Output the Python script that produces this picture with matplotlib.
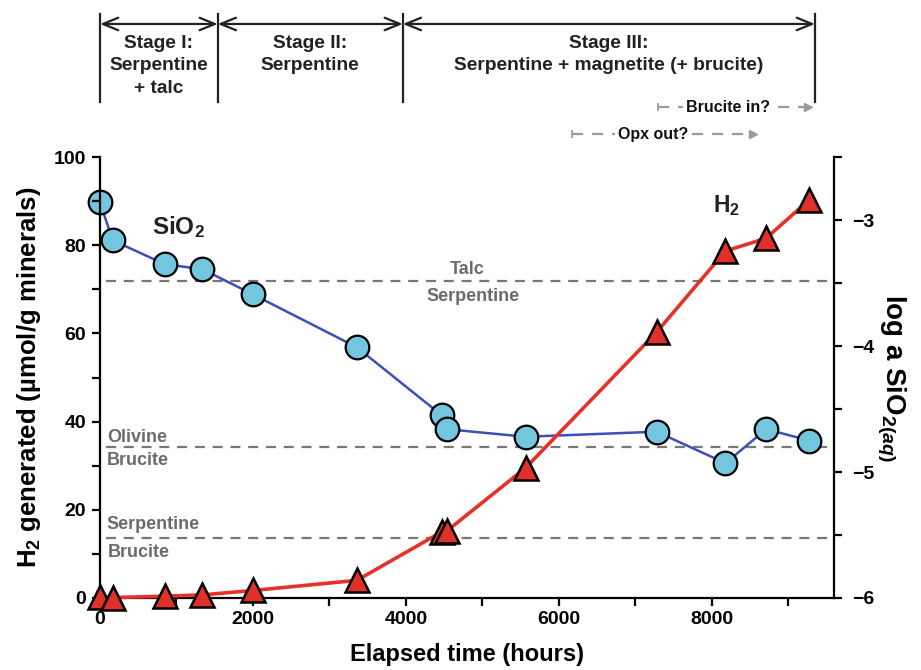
import matplotlib
matplotlib.use("Agg")
import matplotlib.pyplot as plt
from matplotlib.ticker import MultipleLocator

plt.rcParams['font.family'] = ['Liberation Sans', 'DejaVu Sans']
plt.rcParams['font.weight'] = 'bold'
plt.rcParams['mathtext.fontset'] = 'custom'
plt.rcParams['mathtext.rm'] = 'Liberation Sans:bold'
plt.rcParams['mathtext.bf'] = 'Liberation Sans:bold'
plt.rcParams['mathtext.it'] = 'Liberation Sans:italic'

# --- data ---
hours = [0, 165, 845, 1340, 2000, 3360, 4470, 4536, 5565, 7280, 8180, 8712, 9275]
h2_umol = [0.2, 0.1, 0.4, 0.7, 1.7, 4.0, 15.0, 15.2, 29.5, 60.3, 78.7, 81.6, 90.3]
log_a_sio2 = [-2.86, -3.16, -3.35, -3.39, -3.59, -4.01, -4.55, -4.66,
              -4.72, -4.68, -4.93, -4.66, -4.75]

# mineral equilibrium levels (log aSiO2) and their labels (above, below)
boundary_levels = [-3.48, -4.80, -5.52]
boundary_labels = [("Talc", "Serpentine"), ("Olivine", "Brucite"), ("Serpentine", "Brucite")]

# alteration stages
stage_edges = [0, 1540, 3960, 9350]
stage_names = ["Stage I:\nSerpentine\n+ talc",
               "Stage II:\nSerpentine",
               "Stage III:\nSerpentine + magnetite (+ brucite)"]

# uncertain phase changes: (label, start, end)
phase_events = [("Brucite in?", 7294, 9255), ("Opx out?", 6170, 8536)]

BLUE = '#3c4fb8'
RED = '#e8302a'
CYAN = '#72c6de'
TRI = '#e0302a'
GREY = '#6b6b6b'

fig = plt.figure(figsize=(9.21, 6.70), dpi=100)
ax = fig.add_axes([0.1086, 0.1075, 0.797, 0.658])
ax2 = ax.twinx()

# SiO2 on the right-hand axis
ax2.plot(hours, log_a_sio2, '-', color=BLUE, lw=1.8, zorder=2)
ax2.plot(hours, log_a_sio2, 'o', ms=17, mfc=CYAN, mec='black', mew=1.6,
         clip_on=False, zorder=3)

for lev in boundary_levels:
    ax2.axhline(lev, xmin=0.008, color='#777777', lw=1.6, ls=(0, (4.5, 3.5)), zorder=1)

ax2.set_ylim(-6, -2.5)
ax2.yaxis.set_major_locator(MultipleLocator(1))
ax2.yaxis.set_minor_locator(MultipleLocator(0.5))

# H2 on the left-hand axis, drawn above the SiO2 axis
ax.set_zorder(ax2.get_zorder() + 1)
ax.patch.set_visible(False)
ax.plot(hours, h2_umol, '-', color=RED, lw=2.6, zorder=4, clip_on=False)
ax.plot(hours, h2_umol, '^', ms=17, mfc=TRI, mec='black', mew=1.8,
        clip_on=False, zorder=5)

ax.set_xlim(0, 9600)
ax.set_ylim(0, 100)
ax.xaxis.set_major_locator(MultipleLocator(2000))
ax.xaxis.set_minor_locator(MultipleLocator(1000))
ax.yaxis.set_major_locator(MultipleLocator(20))
ax.yaxis.set_minor_locator(MultipleLocator(10))

for a in (ax, ax2):
    a.spines['top'].set_visible(False)
    for s in a.spines.values():
        s.set_linewidth(1.6)
    a.tick_params(which='both', direction='out', width=1.6, length=6, labelsize=14)
ax.spines['right'].set_visible(False)
ax2.spines['left'].set_visible(False)
ax2.spines['bottom'].set_visible(False)
ax.tick_params(axis='y', pad=4)
ax2.tick_params(axis='y', pad=7)

ax.set_xlabel("Elapsed time (hours)", fontsize=17, fontweight='bold', labelpad=11)
ax.set_ylabel(r"H$_\mathbf{2}$ generated (µmol/g minerals)", fontsize=18.5,
              fontweight='bold', labelpad=8)
ax2.set_ylabel(r"log a SiO$_{\mathbf{2}\mathit{(aq)}}$", fontsize=20,
               fontweight='bold', rotation=270, labelpad=24)

# series labels
ax.text(1020, 84.1, r"SiO$_\mathbf{2}$", fontsize=17.5, ha='center', va='center', color='#222222')
ax.text(8187, 89.1, r"H$_\mathbf{2}$", fontsize=16.5, ha='center', va='center', color='#222222')

# labels on the equilibrium lines (x in hours, offsets in points)
label_x = [(4800, 4878), (92, 92), (78, 105)]
label_ha = ['center', 'left', 'left']
label_dy = [(4.7, -14.7), (3.2, -13.3), (6.1, -14.0)]
for lev, (up, low), (xu, xl), ha, (du, dl) in zip(boundary_levels, boundary_labels,
                                                   label_x, label_ha, label_dy):
    ax2.annotate(up, (xu, lev), xytext=(0, du), textcoords='offset points',
                 color=GREY, fontsize=13, ha=ha, va='baseline')
    ax2.annotate(low, (xl, lev), xytext=(0, dl), textcoords='offset points',
                 color=GREY, fontsize=13, ha=ha, va='baseline')

# stage brackets above the plot
trans = ax.get_xaxis_transform()
for x in stage_edges:
    ax.plot([x, x], [1.125, 1.324], color='#222222', lw=1.6, transform=trans, clip_on=False)
for x0, x1, name in zip(stage_edges[:-1], stage_edges[1:], stage_names):
    ax.annotate("", xy=(x0, 1.302), xytext=(x1, 1.302), xycoords=trans, textcoords=trans,
                arrowprops=dict(arrowstyle='<->,head_length=1.1,head_width=0.45',
                                color='#222222', lw=1.6, shrinkA=0, shrinkB=0))
    ax.text((x0 + x1) / 2, 1.277, name, transform=trans, ha='center', va='top',
            fontsize=13.8, linespacing=1.42, color='#222222')

# uncertain phase changes
for (label, x0, x1), yy, xt in zip(phase_events, [1.113, 1.052], [8214, 7233]):
    ax.plot([x0, x1], [yy, yy], color='#9a9a9a', lw=1.6, ls=(0, (5, 4)),
            transform=trans, clip_on=False)
    ax.plot([x0], [yy], marker='|', ms=6, mew=1.2, color='#9a9a9a',
            transform=trans, clip_on=False)
    ax.plot([x1], [yy], marker='>', ms=6, color='#9a9a9a', mec='#9a9a9a',
            transform=trans, clip_on=False)
    ax.text(xt, yy, label, transform=trans, ha='center', va='center', fontsize=11.5,
            color='#111111', bbox=dict(fc='white', ec='none', pad=2))

fig.savefig("out.png", dpi=100)
